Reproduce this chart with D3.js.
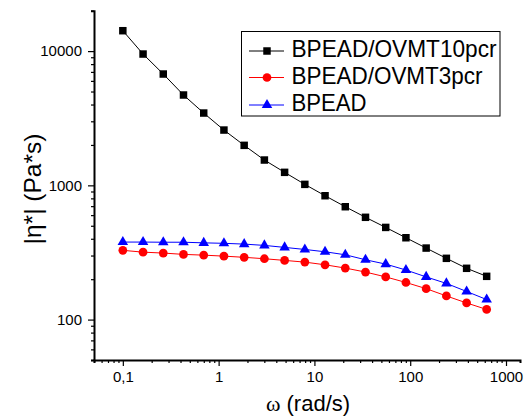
<!DOCTYPE html>
<html>
<head>
<meta charset="utf-8">
<script src="https://cdn.jsdelivr.net/npm/d3@7/dist/d3.min.js"></script>
<style>
  html, body { margin: 0; padding: 0; background: #fff; }
  svg { display: block; }
</style>
</head>
<body>
<svg id="chart" width="525" height="419"></svg>
<script>
// ---- data ----
const omega = [0.1, 0.1626, 0.2643, 0.4298, 0.6988, 1.136, 1.848, 3.004, 4.885, 7.943,
               12.91, 21.0, 34.14, 55.5, 90.24, 146.7, 238.6, 387.9, 628.3];
const seriesNames = ["BPEAD/OVMT10pcr", "BPEAD/OVMT3pcr", "BPEAD"];
const eta10 = [14190, 9510, 6750, 4710, 3457, 2582, 1986, 1544, 1250, 1017,
               837, 693, 578, 486, 407, 341, 286, 241, 210];
const eta3  = [328, 318, 313, 306, 302, 297, 291, 284, 276, 268,
               256, 242, 226, 208, 189, 170, 150, 133, 119];
const etaB  = [378, 378, 377, 377, 373, 370, 365, 357, 345, 333,
               320, 304, 279, 259, 234, 208, 186, 162, 141];
const xTickValues = [0.1, 1, 10, 100, 1000];
const xTickLabels = ["0,1", "1", "10", "100", "1000"];
const yTickValues = [100, 1000, 10000];
const yTickLabels = ["100", "1000", "10000"];
const xDomain = [0.05, 1400];
const yDomain = [50, 20000];

const svg = d3.select("#chart");
const x = d3.scaleLog().domain(xDomain).range([94, 520]);
const y = d3.scaleLog().domain(yDomain).range([360, 10.7]);

const tickFont = "'Liberation Sans Narrow', 'Arial Narrow', 'Liberation Sans', Arial, sans-serif";
const mainFont = "'Liberation Sans', Arial, sans-serif";

// minor ticks
function minorTicks(domain) {
  const out = [];
  for (let e = -3; e <= 5; e++) {
    for (let m = 2; m <= 9; m++) {
      const v = m * Math.pow(10, e);
      if (v >= domain[0] * 0.999 && v <= domain[1] * 1.001) out.push(v);
    }
  }
  return out;
}

// X axis
const xAxisG = svg.append("g").attr("transform", "translate(0,360)");
xAxisG.call(d3.axisBottom(x).tickValues(minorTicks(xDomain)).tickSize(3).tickFormat(""));
const xMajor = xAxisG.append("g").call(d3.axisBottom(x).tickValues(xTickValues).tickSize(6)
  .tickFormat((d, i) => xTickLabels[i]).tickPadding(5));
xMajor.select("path.domain").remove();
xAxisG.select("path.domain").attr("stroke", "#000").attr("stroke-width", 2);
xAxisG.selectAll(".tick line").attr("stroke", "#000").attr("stroke-width", 1.2);
xAxisG.selectAll(".tick text").attr("font-family", tickFont).attr("font-size", 15).attr("fill", "#000");

// Y axis
const yAxisG = svg.append("g").attr("transform", "translate(94,0)");
yAxisG.call(d3.axisLeft(y).tickValues(minorTicks(yDomain)).tickSize(3).tickFormat(""));
const yMajor = yAxisG.append("g").call(d3.axisLeft(y).tickValues(yTickValues).tickSize(6)
  .tickFormat((d, i) => yTickLabels[i]).tickPadding(6));
yMajor.select("path.domain").remove();
yAxisG.select("path.domain").attr("stroke", "#000").attr("stroke-width", 2);
yAxisG.selectAll(".tick line").attr("stroke", "#000").attr("stroke-width", 1.2);
yAxisG.selectAll(".tick text").attr("font-family", tickFont).attr("font-size", 15).attr("fill", "#000");

// series
const series = [
  { name: seriesNames[0], vals: eta10, color: "#000000", shape: d3.symbolSquare, size: 56, tl: 205 },
  { name: seriesNames[1], vals: eta3,  color: "#ff0000", shape: d3.symbolCircle, size: 60, tl: 191 },
  { name: seriesNames[2], vals: etaB,  color: "#0000ff", shape: d3.symbolTriangle, size: 48, tl: 75 }
];
const line = d3.line().x(d => x(d[0])).y(d => y(d[1]));
series.forEach(s => {
  const pts = omega.map((w, i) => [w, s.vals[i]]);
  svg.append("path").datum(pts).attr("d", line)
    .attr("fill", "none").attr("stroke", s.color).attr("stroke-width", 1);
  svg.append("g").selectAll("path").data(pts).join("path")
    .attr("transform", d => `translate(${x(d[0])},${y(d[1])})`)
    .attr("d", d3.symbol().type(s.shape).size(s.size))
    .attr("fill", s.color);
});

// legend
const lg = svg.append("g");
lg.append("rect").attr("x", 241.5).attr("y", 31.5).attr("width", 258.5).attr("height", 84.5)
  .attr("fill", "#fff").attr("stroke", "#000").attr("stroke-width", 1);
const rowsY = [51, 77.5, 105];
series.forEach((s, i) => {
  const yy = rowsY[i];
  lg.append("line").attr("x1", 249).attr("x2", 284).attr("y1", yy).attr("y2", yy)
    .attr("stroke", s.color).attr("stroke-width", 1);
  lg.append("path").attr("transform", `translate(267,${yy})`)
    .attr("d", d3.symbol().type(s.shape).size(s.size)).attr("fill", s.color);
  lg.append("text").attr("x", 291.5).attr("y", yy + 6).text(s.name)
    .attr("font-family", mainFont).attr("font-size", 24).attr("fill", "#000")
    .attr("textLength", s.tl).attr("lengthAdjust", "spacingAndGlyphs");
});

// axis titles
const xt = svg.append("text").attr("x", 308).attr("y", 411).attr("text-anchor", "middle")
  .attr("font-family", mainFont).attr("font-size", 22).attr("fill", "#000");
xt.append("tspan").attr("font-family", "'Liberation Serif', 'Times New Roman', serif").text("ω");
xt.append("tspan").text(" (rad/s)");

svg.append("text").attr("transform", "translate(41,189) rotate(-90)")
  .attr("text-anchor", "middle").attr("font-family", mainFont).attr("font-size", 24.5)
  .attr("fill", "#000").text("|η*| (Pa*s)");
</script>
</body>
</html>
